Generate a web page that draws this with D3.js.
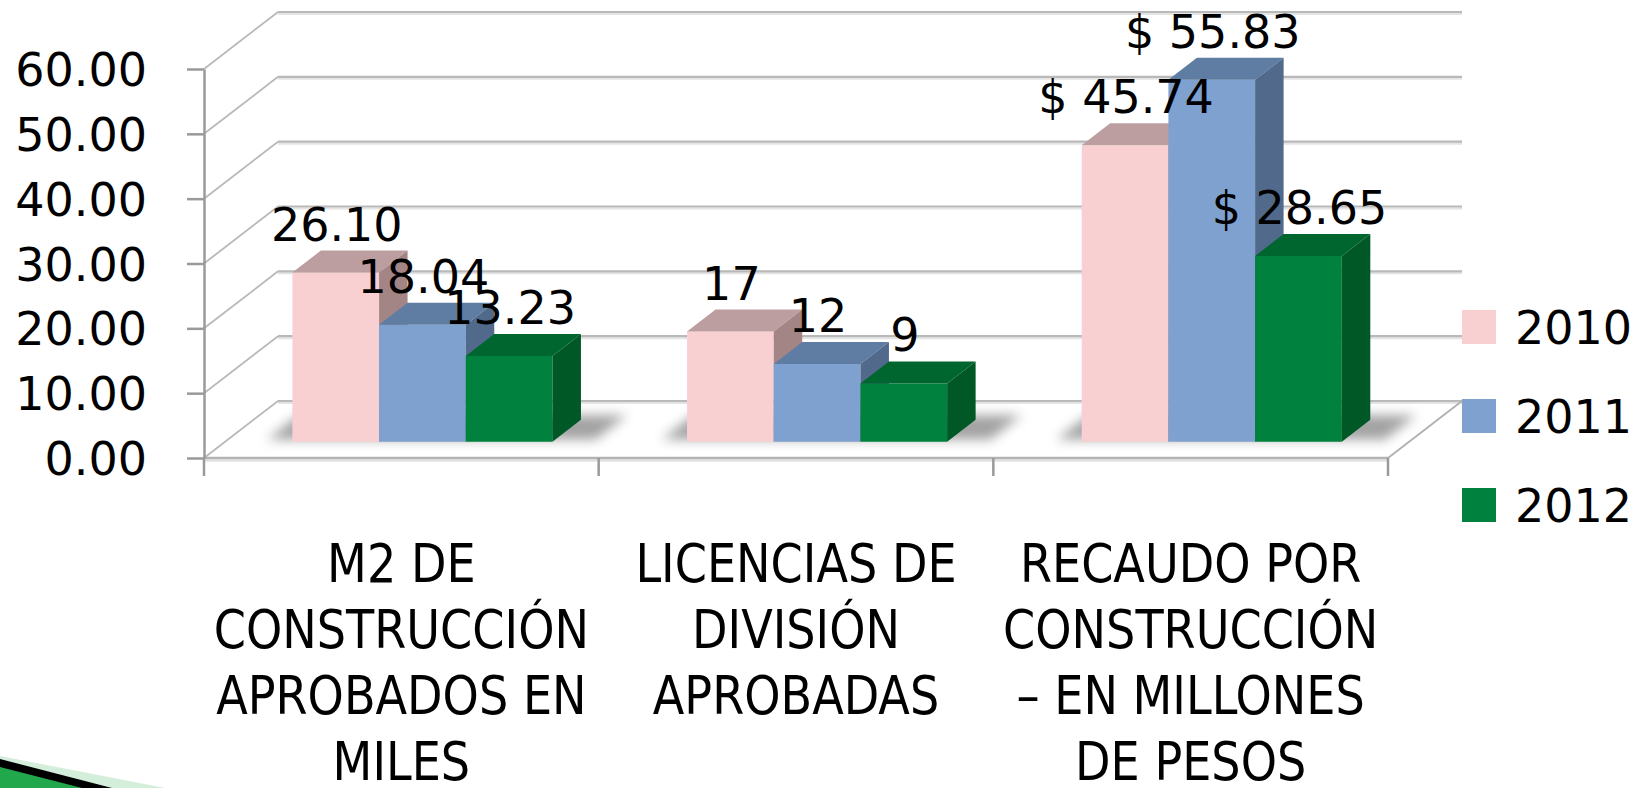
<!DOCTYPE html>
<html>
<head>
<meta charset="utf-8">
<script src="https://cdn.jsdelivr.net/npm/d3@7"></script>
<style>
  body { margin: 0; background: #fff; }
  .num { font-family: "DejaVu Sans", sans-serif; font-size: 46px; fill: #000; }
  .cat { font-family: "Liberation Sans Narrow", "DejaVu Sans Condensed", sans-serif; font-size: 54px; fill: #000; }
</style>
</head>
<body>
<svg id="chart" width="1648" height="788"></svg>
<script>
// Data
const categories = ["M2", "LICENCIAS", "RECAUDO"];
const categoryLines = [
  ["M2 DE", "CONSTRUCCIÓN", "APROBADOS EN", "MILES"],
  ["LICENCIAS DE", "DIVISIÓN", "APROBADAS"],
  ["RECAUDO POR", "CONSTRUCCIÓN", "– EN MILLONES", "DE PESOS"]
];
const years = ["2010", "2011", "2012"];
const values2010 = [26.10, 17, 45.74];
const values2011 = [18.04, 12, 55.83];
const values2012 = [13.23, 9, 28.65];
const yTicks = [0, 10, 20, 30, 40, 50, 60];

// label format per category
const labelFormats = [d => d.toFixed(2), d => d3.format("d")(d), d => "$ " + d.toFixed(2)];

const seriesValues = [values2010, values2011, values2012];
const colors = {
  "2010": {front: "#f8d0d2", top: "#bd9ea0", side: "#a38585"},
  "2011": {front: "#7ea1d0", top: "#5f7ca2", side: "#51698b"},
  "2012": {front: "#00813d", top: "#00662f", side: "#005827"}
};

const svg = d3.select("#chart");

// Scales
const y = d3.scaleLinear().domain([0, 60]).range([458, 69]);
const x0 = d3.scaleBand().domain(categories).range([204, 1388]);
const x1 = d3.scaleBand().domain(years)
  .range([x0.bandwidth() * 0.1705, x0.bandwidth() * 0.8295]);

// 3D depth (oblique projection)
const DX = 74, DY = -57;
const F0 = 0.285, F1 = 0.67;
const proj = (x, v, f) => [x + f * DX, y(v) + f * DY];
const poly = pts => pts.map(p => p.join(",")).join(" ");

const defs = svg.append("defs");
defs.append("filter").attr("id", "shadowBlur")
  .attr("x", "-20%").attr("y", "-50%").attr("width", "140%").attr("height", "200%")
  .append("feGaussianBlur").attr("stdDeviation", 6);

const xl = x0.range()[0], xr = x0.range()[1];

// Floor
svg.append("polygon")
  .attr("points", poly([proj(xl, 0, 0), proj(xr, 0, 0), proj(xr, 0, 1), proj(xl, 0, 1)]))
  .attr("fill", "#fff");

// Back wall gridlines (with soft underline)
yTicks.forEach(t => {
  const a = proj(xl, t, 1), b = proj(xr, t, 1);
  svg.append("line").attr("x1", a[0]).attr("y1", a[1] + 2).attr("x2", b[0]).attr("y2", b[1] + 2)
    .attr("stroke", "#e4e4e4").attr("stroke-width", 2);
  svg.append("line").attr("x1", a[0]).attr("y1", a[1]).attr("x2", b[0]).attr("y2", b[1])
    .attr("stroke", "#b9b9b9").attr("stroke-width", 2.2);
  // left wall diagonal
  const c = proj(xl, t, 0);
  svg.append("line").attr("x1", c[0]).attr("y1", c[1]).attr("x2", a[0]).attr("y2", a[1])
    .attr("stroke", "#b9b9b9").attr("stroke-width", 1.8);
});

// Floor edges
const fr0 = proj(xr, 0, 0), fr1 = proj(xr, 0, 1);
svg.append("line").attr("x1", fr0[0]).attr("y1", fr0[1]).attr("x2", fr1[0]).attr("y2", fr1[1])
  .attr("stroke", "#b0b0b0").attr("stroke-width", 1.8);
svg.append("line").attr("x1", xl).attr("y1", y(0) + 2.5).attr("x2", xr).attr("y2", y(0) + 2.5)
  .attr("stroke", "#e2e2e2").attr("stroke-width", 2.5);
svg.append("line").attr("x1", xl).attr("y1", y(0)).attr("x2", xr).attr("y2", y(0))
  .attr("stroke", "#b4b4b4").attr("stroke-width", 2.5);

// Category ticks at band edges
const edges = categories.map(c => x0(c)).concat([xr]);
svg.selectAll(".xtick").data(edges).enter().append("line")
  .attr("x1", d => d).attr("x2", d => d)
  .attr("y1", y(0)).attr("y2", y(0) + 18)
  .attr("stroke", "#9a9a9a").attr("stroke-width", 2.5);

// Y axis
const yAxis = svg.append("g")
  .attr("transform", `translate(${xl},0)`)
  .call(d3.axisLeft(y).tickValues(yTicks).tickFormat(d3.format(".2f"))
    .tickSize(17).tickSizeOuter(0).tickPadding(40));
yAxis.select(".domain").attr("stroke", "#9a9a9a").attr("stroke-width", 2.5);
yAxis.selectAll(".tick line").attr("stroke", "#9a9a9a").attr("stroke-width", 2.5);
yAxis.selectAll(".tick text").attr("class", "num").attr("font-family", null).attr("font-size", null)
  .attr("fill", "#000").attr("dy", "0.36em");

// Bars
const bars = [];
categories.forEach((c, ci) => {
  years.forEach((s, si) => {
    bars.push({cat: c, ci: ci, year: s, value: seriesValues[si][ci]});
  });
});

// Floor shadows
categories.forEach(c => {
  const gl = x0(c) + x1(years[0]) - 28;
  const gr = x0(c) + x1(years[years.length - 1]) + x1.bandwidth() + 40;
  svg.append("polygon")
    .attr("points", poly([proj(gl, 0, F0 + 0.04), proj(gr, 0, F0 + 0.04), proj(gr, 0, F1 + 0.08), proj(gl, 0, F1 + 0.08)]))
    .attr("fill", "#7a7a7a").attr("opacity", 0.7)
    .attr("filter", "url(#shadowBlur)");
});

const barG = svg.append("g");
bars.forEach(d => {
  const a = x0(d.cat) + x1(d.year);
  const b = a + x1.bandwidth();
  const col = colors[d.year];
  const g = barG.append("g");
  g.append("polygon")
    .attr("points", poly([proj(a, 0, F0), proj(b, 0, F0), proj(b, d.value, F0), proj(a, d.value, F0)]))
    .attr("fill", col.front);
  g.append("polygon")
    .attr("points", poly([proj(a, d.value, F0), proj(b, d.value, F0), proj(b, d.value, F1), proj(a, d.value, F1)]))
    .attr("fill", col.top);
  g.append("polygon")
    .attr("points", poly([proj(b, 0, F0), proj(b, d.value, F0), proj(b, d.value, F1), proj(b, 0, F1)]))
    .attr("fill", col.side);
});

// Data labels
svg.append("g").selectAll("text").data(bars).enter().append("text")
  .attr("class", "num")
  .attr("text-anchor", "middle")
  .attr("x", d => x0(d.cat) + x1(d.year) + x1.bandwidth() / 2 + F0 * DX + 1)
  .attr("y", d => y(d.value) + F1 * DY - 10)
  .text(d => labelFormats[d.ci](d.value));

// Category labels (slightly condensed)
categories.forEach((c, ci) => {
  const t = svg.append("text").attr("class", "cat").attr("text-anchor", "middle")
    .attr("transform", `translate(${x0(c) + x0.bandwidth() / 2},0) scale(0.95,1)`);
  categoryLines[ci].forEach((line, li) => {
    t.append("tspan").attr("x", 0).attr("y", 582 + li * 66).text(line);
  });
});

// Legend
const legend = svg.append("g").attr("transform", "translate(1462,310)");
years.forEach((s, i) => {
  const row = legend.append("g").attr("transform", `translate(0,${i * 89})`);
  row.append("rect").attr("width", 34).attr("height", 34).attr("fill", colors[s].front);
  row.append("text").attr("class", "num").attr("x", 53).attr("y", 17).attr("dy", "0.36em").text(s);
});

// Slide decoration, bottom left
svg.append("polygon").attr("points", "0,756 165,788 0,788").attr("fill", "#d3eedb");
svg.append("polygon").attr("points", "0,759 112,788 0,788").attr("fill", "#000");
svg.append("polygon").attr("points", "0,767 82,788 0,788").attr("fill", "#22a84c");
</script>
</body>
</html>
